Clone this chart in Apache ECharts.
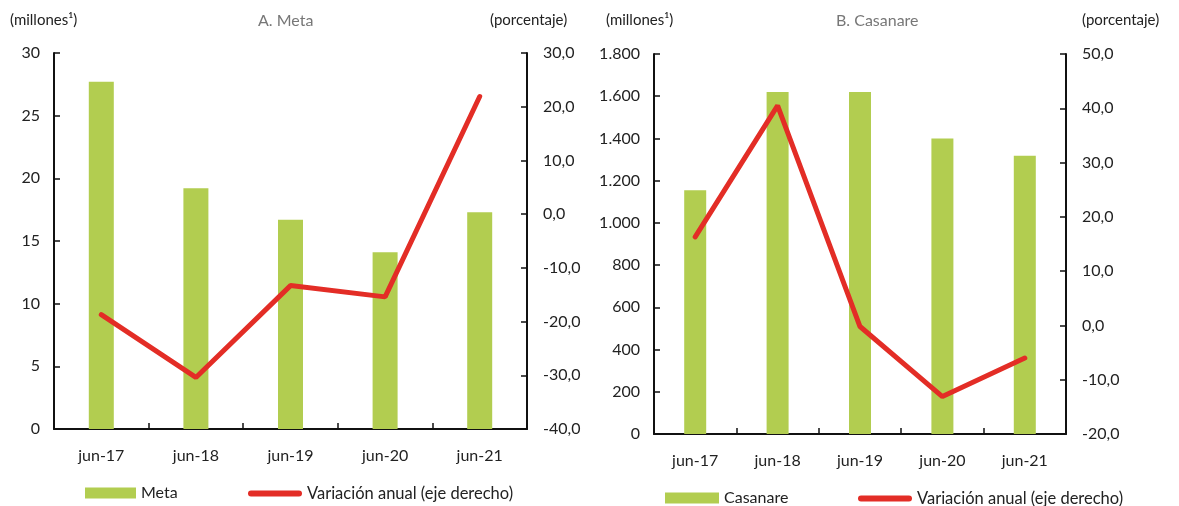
<!DOCTYPE html>
<html><head><meta charset="utf-8">
<script src="https://cdn.jsdelivr.net/npm/echarts@6/dist/echarts.min.js"></script>
<style>html,body{margin:0;padding:0;background:#fff}#c{width:1179px;height:506px}</style>
</head><body><div id="c"></div>
<script>
const categories = ['jun-17','jun-18','jun-19','jun-20','jun-21'];
const metaValues = [27.7, 19.2, 16.7, 14.1, 17.3];
const metaVariation = [-18.7, -30.4, -13.3, -15.4, 21.9];
const casanareValues = [1155, 1620, 1620, 1400, 1318];
const casanareVariation = [16.3, 40.5, -0.2, -13.1, -6.0];
const varName = 'Variación anual (eje derecho)';

const FONT = 'Lato';
const GREEN = '#B2CD50';
const RED = '#E32D26';
const fmtThousands = v => String(v).replace(/\B(?=(\d{3})+(?!\d))/g, '.');
const fmtPct = v => v.toFixed(1).replace('.', ',');

const axisLine = {show:true, lineStyle:{color:'#111', width:2}};
const tick = {show:true, inside:true, length:6, lineStyle:{color:'#111', width:1.5}};
const lbl = {color:'#222', fontFamily:FONT, fontSize:16};

function xAxis(gi){
  return {type:'category', gridIndex:gi, data:categories, boundaryGap:true,
    axisLine, axisTick:{...tick, interval:0}, axisLabel:{...lbl, margin:19}};
}
const lineIcon = 'path://M3,0 L51,0 A3,3 0 0 1 51,6 L3,6 A3,3 0 0 1 3,0 Z';

const chart = echarts.init(document.getElementById('c'));
chart.setOption({
  animation:false,
  textStyle:{fontFamily:FONT},
  grid:[
    {left:54, right:652, top:53, bottom:77},
    {left:654, right:113, top:54, bottom:72}
  ],
  xAxis:[xAxis(0), xAxis(1)],
  yAxis:[
    {type:'value', gridIndex:0, min:0, max:30, interval:5, axisLine, axisTick:tick, splitLine:{show:false},
      axisLabel:{...lbl, margin:14}},
    {type:'value', gridIndex:0, position:'right', min:-40, max:30, interval:10, axisLine, axisTick:tick, splitLine:{show:false},
      axisLabel:{...lbl, margin:16, formatter:fmtPct}},
    {type:'value', gridIndex:1, min:0, max:1800, interval:200, axisLine, axisTick:tick, splitLine:{show:false},
      axisLabel:{...lbl, margin:14, formatter:fmtThousands}},
    {type:'value', gridIndex:1, position:'right', min:-20, max:50, interval:10, axisLine, axisTick:tick, splitLine:{show:false},
      axisLabel:{...lbl, margin:16, formatter:fmtPct}}
  ],
  legend:[
    {left:80, top:480, itemWidth:51, itemHeight:11, textStyle:{...lbl}, data:[{name:'Meta', icon:'rect'}]},
    {left:243, top:480, itemWidth:54, itemHeight:6, textStyle:{...lbl, fontSize:16.5}, data:[{name:varName, icon:lineIcon}]},
    {left:660, top:485, itemWidth:54, itemHeight:11, textStyle:{...lbl}, data:[{name:'Casanare', icon:'rect'}]},
    {left:853, top:485, itemWidth:54, itemHeight:6, textStyle:{...lbl, fontSize:16.5}, data:[{name:varName, icon:lineIcon}]}
  ],
  graphic:[
    {type:'text', left:10, top:13, style:{text:'(millones¹)', font:'15px '+FONT, fill:'#222'}},
    {type:'text', left:258, top:13, style:{text:'A. Meta', font:'16px '+FONT, fill:'#777'}},
    {type:'text', left:490, top:13, style:{text:'(porcentaje)', font:'15px '+FONT, fill:'#222'}},
    {type:'text', left:606, top:13, style:{text:'(millones¹)', font:'15px '+FONT, fill:'#222'}},
    {type:'text', left:836, top:13, style:{text:'B. Casanare', font:'16px '+FONT, fill:'#777'}},
    {type:'text', left:1082, top:13, style:{text:'(porcentaje)', font:'15px '+FONT, fill:'#222'}}
  ],
  series:[
    {name:'Meta', type:'bar', xAxisIndex:0, yAxisIndex:0, data:metaValues, barWidth:25, itemStyle:{color:GREEN}},
    {name:varName, type:'line', xAxisIndex:0, yAxisIndex:1, data:metaVariation, symbol:'none',
      lineStyle:{color:RED, width:5, cap:'round'}, itemStyle:{color:RED}},
    {name:'Casanare', type:'bar', xAxisIndex:1, yAxisIndex:2, data:casanareValues, barWidth:22, itemStyle:{color:GREEN}},
    {name:varName, type:'line', xAxisIndex:1, yAxisIndex:3, data:casanareVariation, symbol:'none',
      lineStyle:{color:RED, width:5, cap:'round'}, itemStyle:{color:RED}}
  ]
});
</script></body></html>
